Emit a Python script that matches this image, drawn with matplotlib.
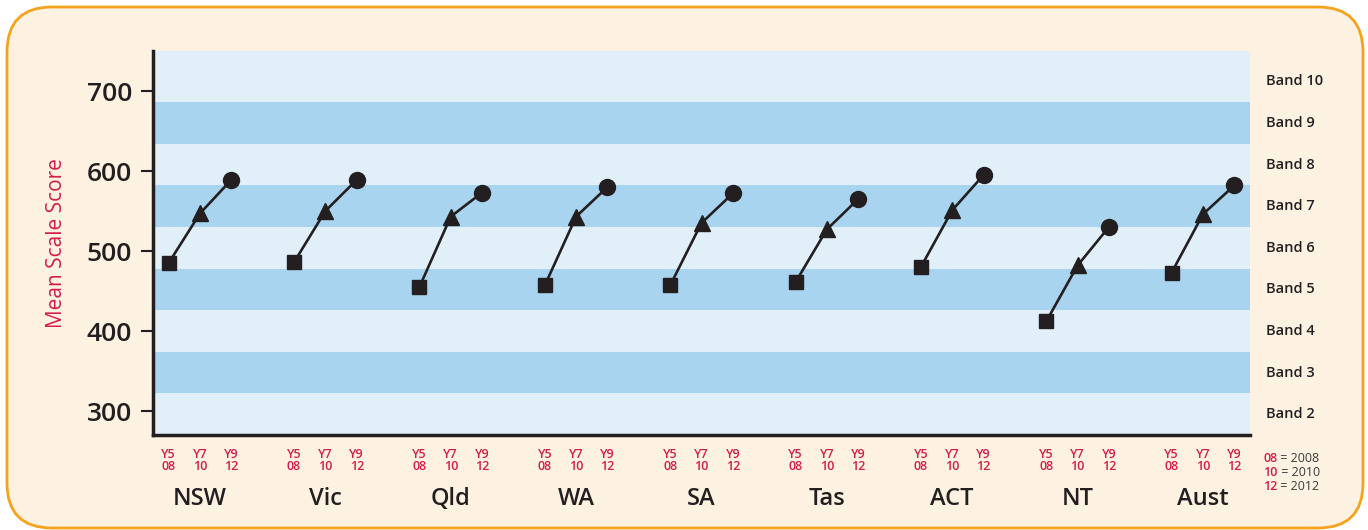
import matplotlib
matplotlib.use("Agg")
import matplotlib.pyplot as plt
from matplotlib.patches import FancyBboxPatch
from matplotlib.transforms import IdentityTransform

plt.rcParams['font.family'] = ['Open Sans', 'DejaVu Sans']

states = ["NSW", "Vic", "Qld", "WA", "SA", "Tas", "ACT", "NT", "Aust"]
y5_2008 = [485, 486, 455, 457, 457, 461, 480, 412, 473]
y7_2010 = [547, 550, 543, 543, 535, 527, 551, 482, 546]
y9_2012 = [589, 589, 573, 580, 572, 565, 595, 530, 582]
sub_labels = ["Y5\n08", "Y7\n10", "Y9\n12"]
band_names = ["Band 2", "Band 3", "Band 4", "Band 5", "Band 6", "Band 7", "Band 8", "Band 9", "Band 10"]
band_edges = [270, 322, 374, 426, 478, 530, 582, 634, 686, 750]
yticks = [300, 400, 500, 600, 700]
legend_rows = [("08", "2008"), ("10", "2010"), ("12", "2012")]

RED = "#d41c4a"
DARK = "#231f20"
LIGHT_BAND = "#e1eff9"
DARK_BAND = "#a9d4ef"

fig = plt.figure(figsize=(13.68, 5.30), dpi=100)
fig.patch.set_facecolor("white")
box = FancyBboxPatch((7, 2), 1356, 521, boxstyle="round,pad=0,rounding_size=45",
                     transform=IdentityTransform(), facecolor="#fdf2e2",
                     edgecolor="#f5a21c", linewidth=2.0, zorder=-10)
fig.patches.append(box)

ax = fig.add_axes([153/1368, 1-435/530, (1250-153)/1368, (435-51)/530])
ax.set_facecolor("none")
ax.set_xlim(-0.5, 34.5)
ax.set_ylim(band_edges[0], band_edges[-1])

for k in range(len(band_names)):
    ax.axhspan(band_edges[k], band_edges[k+1], color=(LIGHT_BAND if k % 2 == 0 else DARK_BAND),
               lw=0, zorder=0)

for i, st in enumerate(states):
    xs = [4*i, 4*i+1, 4*i+2]
    ys = [y5_2008[i], y7_2010[i], y9_2012[i]]
    ax.plot(xs, ys, color=DARK, lw=1.9, zorder=2)
    ax.plot(xs[0], ys[0], marker="s", ms=9.5, color=DARK, zorder=3, ls="none")
    ax.plot(xs[1], ys[1], marker="^", ms=11, color=DARK, zorder=3, ls="none")
    ax.plot(xs[2], ys[2], marker="o", ms=11.5, color=DARK, zorder=3, ls="none")
    for j, lab in enumerate(sub_labels):
        ax.text(xs[j], -0.033, lab, transform=ax.get_xaxis_transform(), ha="center", va="top",
                fontsize=9, color=RED, fontweight="semibold", linespacing=0.92)
    ax.text(4*i+1, -0.135, st, transform=ax.get_xaxis_transform(), ha="center", va="top",
            fontsize=17, color=DARK, fontweight="semibold")

for k, nm in enumerate(band_names):
    ax.text(1.015, (band_edges[k]+band_edges[k+1])/2 if k < len(band_names)-1 else 713,
            nm, transform=ax.get_yaxis_transform(), ha="left", va="center",
            fontsize=10.5, color=DARK, fontweight="semibold")

for r, (a, b) in enumerate(legend_rows):
    yy = -0.045 - r*0.036
    t = ax.text(1.012, yy, a, transform=ax.transAxes, ha="left", va="top",
                fontsize=9, color=RED, fontweight="semibold")
    ax.annotate(" = " + b, xycoords=t, xy=(1, 0), ha="left", va="bottom",
                fontsize=9, color="#3a3a3a")

ax.set_xticks([])
ax.set_yticks(yticks)
ax.set_yticklabels([str(v) for v in yticks], fontsize=19, color=DARK, fontweight="semibold")
ax.tick_params(axis="y", length=9, width=1.5, color=DARK, pad=6)
for s in ["top", "right"]:
    ax.spines[s].set_visible(False)
for s in ["left", "bottom"]:
    ax.spines[s].set_linewidth(2.5)
    ax.spines[s].set_color(DARK)
ax.set_ylabel("Mean Scale Score", fontsize=15, color=RED, labelpad=14)

fig.savefig("out.png", dpi=100, facecolor=fig.get_facecolor())
